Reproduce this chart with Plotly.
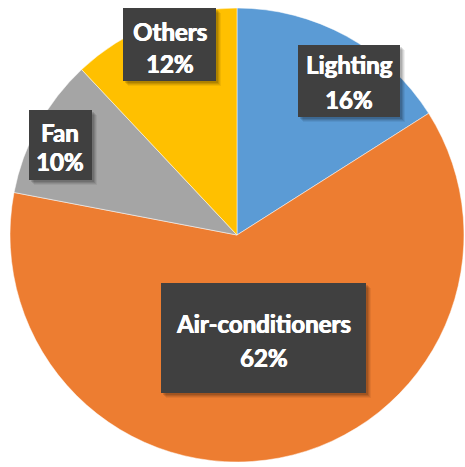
import plotly.graph_objects as go

# Share of electricity consumption by end use
categories = ["Lighting", "Air-conditioners", "Fan", "Others"]
shares = [16, 62, 10, 12]
colors = ["#5B9BD5", "#ED7D31", "#A5A5A5", "#FFC000"]

W, H = 465, 467

# Label boxes: centre (px from top-left), size, and line centres
label_boxes = {
    "Lighting": dict(cx=349, cy=81, w=102, h=72, y1=65, y2=99),
    "Air-conditioners": dict(cx=263.5, cy=338, w=205, h=110, y1=323, y2=357),
    "Fan": dict(cx=60.5, cy=145, w=63, h=70, y1=132, y2=162),
    "Others": dict(cx=169.5, cy=44.5, w=93, h=73, y1=32, y2=63),
}

# Pie placement: centre (237, 235), radius 227 px
pcx, pcy, pr = 237, 235, 227

fig = go.Figure(
    go.Pie(
        labels=categories,
        values=shares,
        sort=False,
        direction="clockwise",
        rotation=0,
        marker=dict(colors=colors, line=dict(color="white", width=0.5)),
        textinfo="none",
        hoverinfo="label+percent",
        domain=dict(
            x=[(pcx - pr) / W, (pcx + pr) / W],
            y=[(H - pcy - pr) / H, (H - pcy + pr) / H],
        ),
    )
)


def px(x):
    return x / W


def py(y):
    return 1 - y / H


shapes = []
annotations = []
for name, val in zip(categories, shares):
    b = label_boxes[name]
    x0, x1 = b["cx"] - b["w"] / 2, b["cx"] + b["w"] / 2
    y0, y1 = b["cy"] - b["h"] / 2, b["cy"] + b["h"] / 2
    # soft drop shadow
    for k, op in [(5, 0.06), (4, 0.08), (3, 0.10), (2, 0.12)]:
        shapes.append(dict(
            type="rect", xref="paper", yref="paper", layer="above",
            x0=px(x0 + k), x1=px(x1 + k), y0=py(y0 + k), y1=py(y1 + k),
            fillcolor=f"rgba(0,0,0,{op})", line=dict(width=0),
        ))
    shapes.append(dict(
        type="rect", xref="paper", yref="paper", layer="above",
        x0=px(x0), x1=px(x1), y0=py(y0), y1=py(y1),
        fillcolor="#404040", line=dict(width=0),
    ))
    for text, ly in [(name, b["y1"]), (f"{val}%", b["y2"])]:
        annotations.append(dict(
            xref="paper", yref="paper", x=px(b["cx"]), y=py(ly),
            xanchor="center", yanchor="middle", showarrow=False,
            text=f"<b>{text}</b>",
            font=dict(family="Lato", size=24, color="white",
                      shadow="0.6px 0 0 white, -0.3px 0 0 white"),
        ))

fig.update_layout(
    width=W,
    height=H,
    margin=dict(l=0, r=0, t=0, b=0),
    paper_bgcolor="white",
    plot_bgcolor="white",
    showlegend=False,
    shapes=shapes,
    annotations=annotations,
)

fig.write_html("out.html")
